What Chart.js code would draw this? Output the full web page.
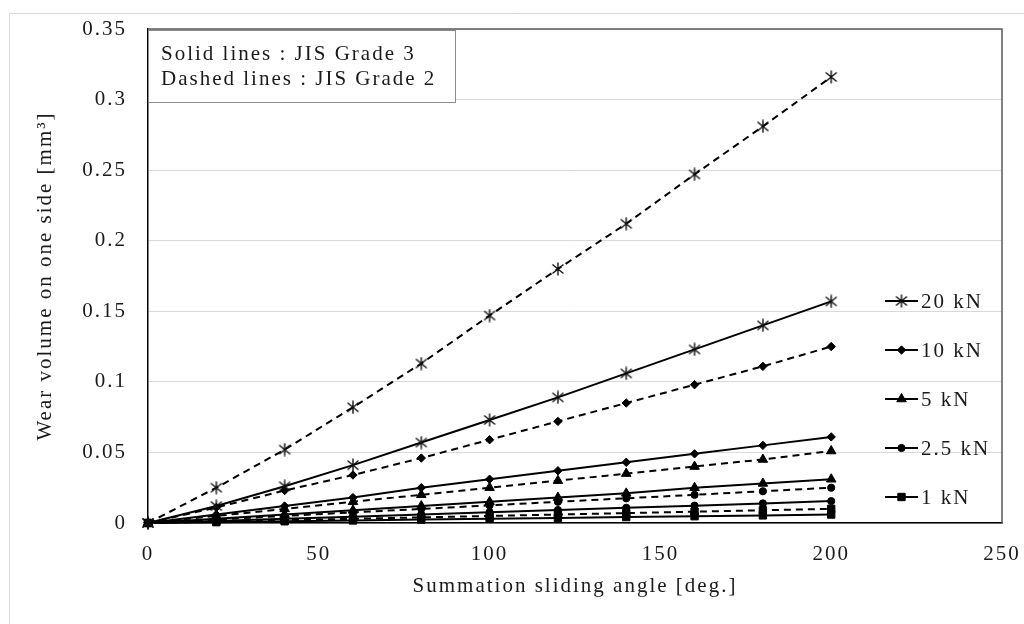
<!DOCTYPE html>
<html>
<head>
<meta charset="utf-8">
<script src="https://cdn.jsdelivr.net/npm/chart.js@4.4.0/dist/chart.umd.min.js"></script>
<style>
  html, body { margin: 0; padding: 0; background: #fff; }
  #wrap { width: 1024px; height: 624px; }
</style>
</head>
<body>
<div id="wrap"><canvas id="wearChart" width="1024" height="624"></canvas></div>
<script>
// Summation sliding angle [deg.]
const angles = [0, 20, 40, 60, 80, 100, 120, 140, 160, 180, 200];
const loads = ['20 kN', '10 kN', '5 kN', '2.5 kN', '1 kN'];

// JIS Grade 3 (solid lines), wear volume [mm3]
const grade3_20kN = [0, 0.012, 0.026, 0.041, 0.057, 0.073, 0.089, 0.106, 0.123, 0.140, 0.157];
const grade3_10kN = [0, 0.006, 0.012, 0.018, 0.025, 0.031, 0.037, 0.043, 0.049, 0.055, 0.061];
const grade3_5kN = [0, 0.003, 0.006, 0.009, 0.012, 0.015, 0.018, 0.021, 0.025, 0.028, 0.031];
const grade3_2_5kN = [0, 0.0015, 0.003, 0.0045, 0.006, 0.0077, 0.0092, 0.0108, 0.0123, 0.0139, 0.0155];
const grade3_1kN = [0, 0.0006, 0.0012, 0.0018, 0.0024, 0.003, 0.0036, 0.0042, 0.0048, 0.0054, 0.006];

// JIS Grade 2 (dashed lines)
const grade2_20kN = [0, 0.025, 0.052, 0.082, 0.113, 0.147, 0.180, 0.212, 0.247, 0.281, 0.316];
const grade2_10kN = [0, 0.011, 0.023, 0.034, 0.046, 0.059, 0.072, 0.085, 0.098, 0.111, 0.125];
const grade2_5kN = [0, 0.005, 0.010, 0.015, 0.020, 0.025, 0.030, 0.035, 0.040, 0.045, 0.051];
const grade2_2_5kN = [0, 0.0025, 0.005, 0.0075, 0.010, 0.0125, 0.015, 0.0175, 0.020, 0.0225, 0.025];
const grade2_1kN = [0, 0.001, 0.002, 0.003, 0.004, 0.005, 0.006, 0.007, 0.008, 0.009, 0.010];

const xTicks = [0, 50, 100, 150, 200, 250];
const yTicks = [0, 0.05, 0.1, 0.15, 0.2, 0.25, 0.3, 0.35];

const grade3 = [grade3_20kN, grade3_10kN, grade3_5kN, grade3_2_5kN, grade3_1kN];
const grade2 = [grade2_20kN, grade2_10kN, grade2_5kN, grade2_2_5kN, grade2_1kN];

const FONT = 'Liberation Serif';
const TEXT_COLOR = '#1a1a1a';

// Excel style "*" marker (X plus a vertical bar)
function makeStar() {
    const c = document.createElement('canvas');
    c.width = 14; c.height = 14;
    const g = c.getContext('2d');
    g.strokeStyle = '#111';
    g.lineWidth = 1.4;
    g.beginPath();
    g.moveTo(7, 0.5); g.lineTo(7, 13.5);
    g.moveTo(1.5, 2.5); g.lineTo(12.5, 11.5);
    g.moveTo(12.5, 2.5); g.lineTo(1.5, 11.5);
    g.stroke();
    return c;
}

const markers = [makeStar(), 'rectRot', 'triangle', 'circle', 'rect'];
const markerRadius = [6, 4.2, 5.5, 3.6, 5.2];

function makeSet(i, values, dashed) {
    return {
        label: dashed ? loads[i] + ' (JIS Grade 2)' : loads[i],
        grade: dashed ? 2 : 3,
        data: values.map((v, k) => ({ x: angles[k], y: v })),
        borderColor: '#000',
        backgroundColor: '#000',
        borderWidth: 2,
        borderDash: dashed ? [7, 5] : [],
        pointStyle: markers[i],
        pointRadius: markerRadius[i],
        pointHoverRadius: markerRadius[i],
        pointBackgroundColor: '#000',
        pointBorderColor: '#000',
        pointBorderWidth: 1,
        tension: 0,
        clip: false
    };
}

const datasets = [];
loads.forEach((load, i) => {
    datasets.push(makeSet(i, grade3[i], false));
    datasets.push(makeSet(i, grade2[i], true));
});

// wider spacing to mimic the stretched Excel text
function spaceText(chart) {
    chart.ctx.letterSpacing = '2px';
}

const decorPlugin = {
    id: 'decor',
    beforeUpdate: spaceText,
    beforeDraw(chart) {
        const ctx = chart.ctx;
        spaceText(chart);
        // faint outer chart-area border
        ctx.save();
        ctx.strokeStyle = '#d9d9d9';
        ctx.lineWidth = 1;
        ctx.beginPath();
        ctx.moveTo(9.5, 624);
        ctx.lineTo(9.5, 13.5);
        ctx.lineTo(1024, 13.5);
        ctx.stroke();
        ctx.restore();
    },
    beforeDatasetsDraw(chart) {
        const { ctx, chartArea: a } = chart;
        ctx.save();
        ctx.strokeStyle = '#595959';
        ctx.lineWidth = 1.5;
        ctx.beginPath();
        ctx.moveTo(a.left, a.top);
        ctx.lineTo(a.right, a.top);
        ctx.lineTo(a.right, a.bottom);
        ctx.stroke();
        ctx.restore();
    },
    afterDraw(chart) {
        const { ctx, chartArea: a } = chart;
        ctx.save();
        ctx.letterSpacing = '2px';
        ctx.font = '21px "' + FONT + '"';

        // note box, top left
        ctx.fillStyle = '#fff';
        ctx.fillRect(a.left, a.top + 1, 307, 72);
        ctx.strokeStyle = '#8c8c8c';
        ctx.lineWidth = 1;
        ctx.strokeRect(a.left + 0.5, a.top + 1.5, 307, 72);
        ctx.fillStyle = TEXT_COLOR;
        ctx.textBaseline = 'alphabetic';
        ctx.textAlign = 'left';
        ctx.fillText('Solid lines : JIS Grade 3', a.left + 13, a.top + 31);
        ctx.fillText('Dashed lines : JIS Grade 2', a.left + 13, a.top + 56);

        // legend (solid series only), inside plot on the right
        const lx = a.right - 117;
        let ly = a.bottom - 222;
        chart.data.datasets.forEach((ds) => {
            if (ds.grade !== 3) return;
            ctx.strokeStyle = '#000';
            ctx.lineWidth = 2;
            ctx.setLineDash([]);
            ctx.beginPath();
            ctx.moveTo(lx, ly);
            ctx.lineTo(lx + 33, ly);
            ctx.stroke();
            ctx.fillStyle = '#000';
            ctx.lineWidth = 1;
            Chart.helpers.drawPoint(ctx, {
                pointStyle: ds.pointStyle,
                radius: ds.pointRadius,
                borderWidth: 1,
                rotation: 0
            }, lx + 16.5, ly);
            ctx.fillStyle = TEXT_COLOR;
            ctx.textBaseline = 'middle';
            ctx.fillText(ds.label, lx + 36, ly + 1);
            ly += 49;
        });
        ctx.restore();
    }
};

const ctx = document.getElementById('wearChart').getContext('2d');
new Chart(ctx, {
    type: 'line',
    data: { datasets: datasets },
    options: {
        responsive: false,
        animation: false,
        devicePixelRatio: 1,
        layout: { padding: { left: 9, right: 22, top: 29, bottom: 0 } },
        plugins: {
            legend: { display: false },
            tooltip: { enabled: false }
        },
        scales: {
            x: {
                type: 'linear',
                min: xTicks[0],
                max: xTicks[xTicks.length - 1],
                afterBuildTicks: s => { s.ticks = xTicks.map(v => ({ value: v })); },
                afterFit: s => {
                    s.height = 101;
                    s.paddingLeft = 0;
                    s.paddingRight = 0;
                },
                grid: { display: false, drawTicks: false },
                border: { display: true, color: '#000', width: 1.5 },
                ticks: {
                    padding: 19,
                    color: TEXT_COLOR,
                    font: { family: FONT, size: 21 },
                    maxRotation: 0
                },
                title: {
                    display: true,
                    text: 'Summation sliding angle [deg.]',
                    color: TEXT_COLOR,
                    font: { family: FONT, size: 21 },
                    padding: { top: 0, bottom: 25 }
                }
            },
            y: {
                min: yTicks[0],
                max: yTicks[yTicks.length - 1],
                afterBuildTicks: s => { s.ticks = yTicks.map(v => ({ value: v })); },
                afterFit: s => {
                    s.width = 139;
                    s.paddingTop = 0;
                    s.paddingBottom = 0;
                },
                grid: { color: '#d9d9d9', lineWidth: 1, drawTicks: false },
                border: { display: true, color: '#000', width: 1.5 },
                ticks: {
                    padding: 21,
                    color: TEXT_COLOR,
                    font: { family: FONT, size: 21 },
                    callback: v => String(+v.toFixed(2))
                },
                title: {
                    display: true,
                    text: 'Wear volume on one side [mm³]',
                    color: TEXT_COLOR,
                    font: { family: FONT, size: 21 },
                    padding: { top: 24, bottom: 0 }
                }
            }
        }
    },
    plugins: [decorPlugin]
});
</script>
</body>
</html>
